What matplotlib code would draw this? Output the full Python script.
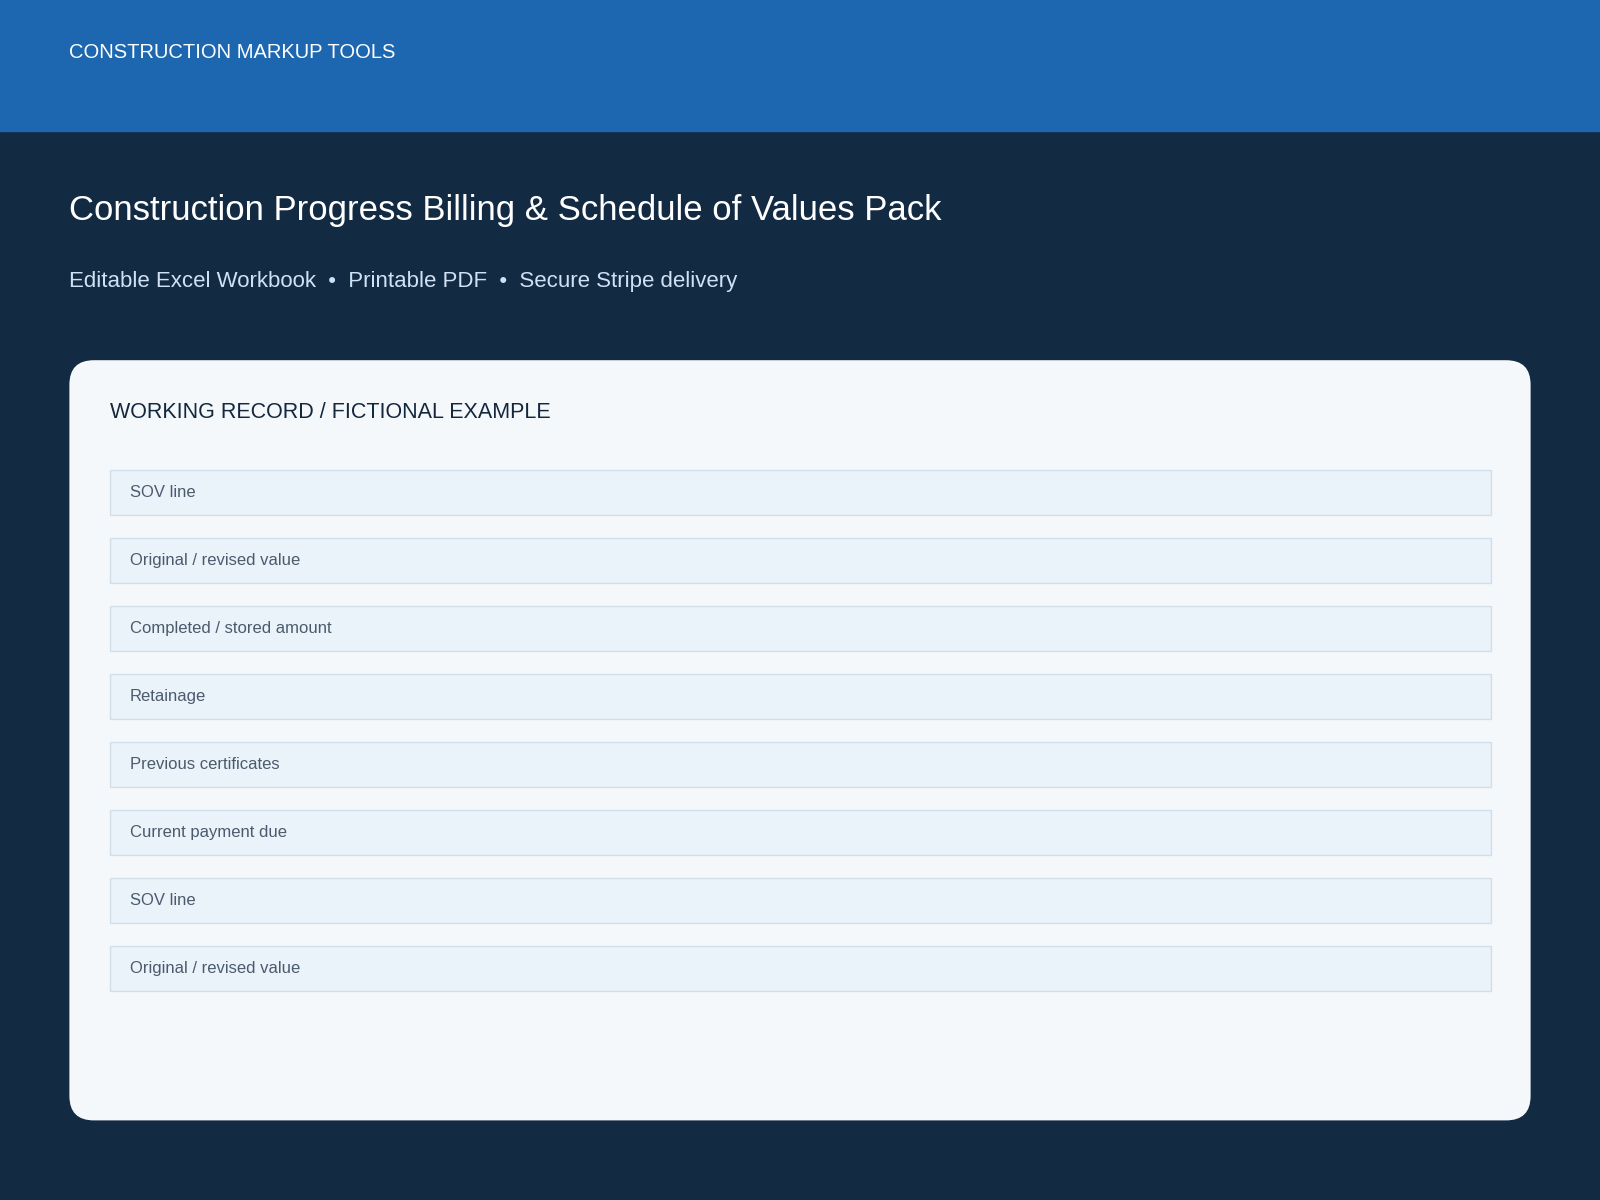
import matplotlib
matplotlib.use("Agg")
import matplotlib.pyplot as plt
from matplotlib.patches import Rectangle, FancyBboxPatch

# Text content
brand      = "CONSTRUCTION MARKUP TOOLS"
title      = "Construction Progress Billing & Schedule of Values Pack"
features   = ["Editable Excel Workbook", "Printable PDF", "Secure Stripe delivery"]
card_title = "WORKING RECORD / FICTIONAL EXAMPLE"
rows       = ["SOV line", "Original / revised value", "Completed / stored amount", "Retainage",
              "Previous certificates", "Current payment due", "SOV line", "Original / revised value"]

W, H = 1568, 1176
plt.rcParams['font.family'] = ['Liberation Sans', 'DejaVu Sans']

fig = plt.figure(figsize=(16, 12), dpi=100)
fig.patch.set_facecolor("#132a43")
ax = fig.add_axes([0, 0, 1, 1])
ax.set_xlim(0, W)
ax.set_ylim(H, 0)
ax.axis("off")

# Header band
ax.add_patch(Rectangle((0, 0), W, 128, color="#1d66b0", zorder=1))
ax.text(68, 51, brand, color="white", fontsize=14.5, va="center", ha="left", zorder=2)

# Title & subtitle
ax.text(68, 206, title, color="white", fontsize=25, va="center", ha="left")
ax.text(68, 276, "  \u2022  ".join(features), color="#cfe2f5", fontsize=16, va="center", ha="left")

# Card
ax.add_patch(FancyBboxPatch((68, 353), 1432, 745, boxstyle="round,pad=0,rounding_size=24",
                            facecolor="#f4f8fb", edgecolor="none", zorder=1))
ax.text(108, 404, card_title, color="#14273d", fontsize=15.5, va="center", ha="left", zorder=2)

# Rows
for i, label in enumerate(rows):
    top = 461 + i * 66.6
    ax.add_patch(Rectangle((108, top), 1353, 44, facecolor="#eaf2fa", edgecolor="#d2dfeb",
                           linewidth=1, zorder=2))
    ax.text(127, top + 22, label, color="#4b5b6d", fontsize=12, va="center", ha="left", zorder=3)

fig.savefig("out.png", dpi=100, facecolor=fig.get_facecolor())
